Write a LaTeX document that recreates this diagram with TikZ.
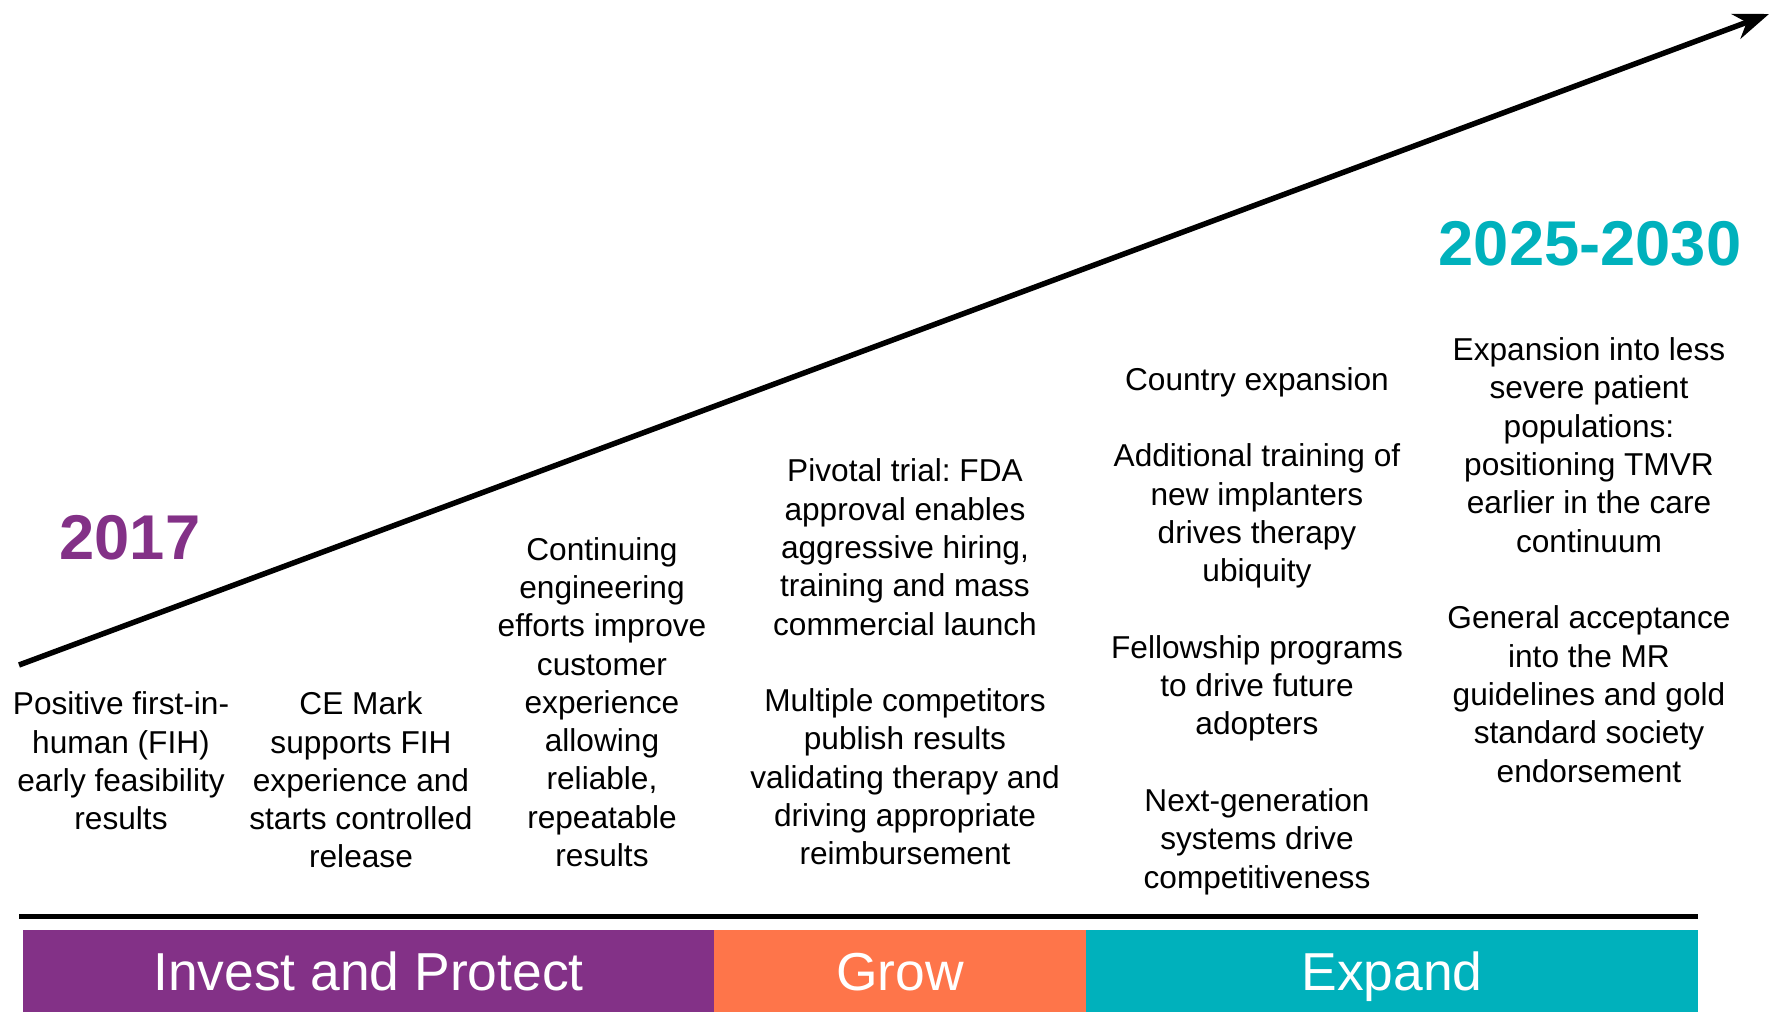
\documentclass[tikz,border=0pt]{standalone}
\usepackage{fontspec}
\setmainfont{Liberation Sans}
\usetikzlibrary{arrows.meta,positioning}
\definecolor{ipurple}{RGB}{131,49,135}
\definecolor{iorange}{RGB}{254,117,74}
\definecolor{iteal}{RGB}{0,177,188}
\frenchspacing

\begin{document}
\begin{tikzpicture}[x=0.1mm, y=-0.1mm, >=Stealth,
    txt/.style={align=center, inner sep=0pt, font=\fontsize{9}{10.9}\selectfont},
    year/.style={inner sep=0pt, font=\fontsize{18}{21}\selectfont\bfseries},
    phase/.style={rectangle, inner sep=0pt, outer sep=0pt, minimum height=0.82cm,
        text=white, text height=1.1em, text depth=0pt, font=\fontsize{15.2}{18}\selectfont}]
    \useasboundingbox (0,0) rectangle (1775,1012);

    % rising arrow and base line
    \coordinate (rise start) at (19,665);
    \coordinate (rise tip) at (1769,14);
    \coordinate (base west) at (19,916);
    \coordinate (base east) at (1698,916);
    \draw[->, line width=1.56pt] (rise start) -- (rise tip);
    \draw[line width=1.42pt] (base west) -- (base east);

    \node[year, text=ipurple] (first year) at (130,538) {2017};
    \node[year, text=iteal] (last year) at (1590,244) {2025-2030};

    % milestones
    \node[txt] (fih) at (121,761) {Positive first-in-\\human (FIH)\\early feasibility\\results};
    \node[txt] (cemark) at (361,780) {CE Mark\\supports FIH\\experience and\\starts controlled\\release};
    \node[txt] (engineering) at (602,702) {Continuing\\engineering\\efforts improve\\customer\\experience\\allowing\\reliable,\\repeatable\\results};
    \node[txt] (pivotal) at (905,662) {Pivotal trial: FDA\\approval enables\\aggressive hiring,\\training and mass\\commercial launch\\[10.9pt]Multiple competitors\\publish results\\validating therapy and\\driving appropriate\\reimbursement};
    \node[txt] (country) at (1257,631) {Country expansion\\[10.9pt]Additional training of\\new implanters\\drives therapy\\ubiquity\\[10.9pt]Fellowship programs\\to drive future\\adopters\\[10.9pt]Next-generation\\systems drive\\competitiveness};
    \node[txt] (severe) at (1589,560) {Expansion into less\\severe patient\\populations:\\positioning TMVR\\earlier in the care\\continuum\\[10.9pt]General acceptance\\into the MR\\guidelines and gold\\standard society\\endorsement};

    % phases
    \node[phase, fill=ipurple, minimum width=6.91cm, anchor=north west] (invest) at (23,930) {Invest and Protect};
    \node[phase, fill=iorange, minimum width=3.72cm, right=0pt of invest] (grow) {Grow};
    \node[phase, fill=iteal, minimum width=6.12cm, right=0pt of grow] (expand) {Expand};
\end{tikzpicture}
\end{document}
